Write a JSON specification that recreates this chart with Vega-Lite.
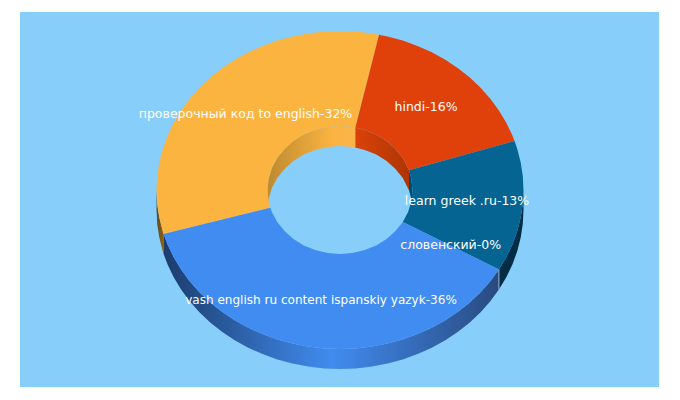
{"$schema":"https://vega.github.io/schema/vega-lite/v6.json","width":639,"height":375,"autosize":"none","padding":{"left":20,"top":12,"right":21,"bottom":13},"background":"white","view":{"fill":"#87CEFA","stroke":null},
"datasets":{
"orangeOuterWall":[{"x":-176.4,"y":-43.9},{"x":-177.2,"y":-41.2},{"x":-180.7,"y":-27.6},{"x":-182.8,"y":-13.9},{"x":-183.5,"y":0},{"x":-183.5,"y":-20},{"x":-182.8,"y":-33.9},{"x":-180.7,"y":-47.6},{"x":-177.2,"y":-61.2},{"x":-176.4,"y":-63.9}],
"tealOuterWall":[{"x":183.5,"y":0},{"x":182.8,"y":-13.9},{"x":180.7,"y":-27.6},{"x":177.2,"y":-41.2},{"x":172.4,"y":-54.4},{"x":166.3,"y":-67.2},{"x":158.9,"y":-79.5},{"x":158.9,"y":-99.5},{"x":166.3,"y":-87.2},{"x":172.4,"y":-74.4},{"x":177.2,"y":-61.2},{"x":180.7,"y":-47.6},{"x":182.8,"y":-33.9},{"x":183.5,"y":-20}],
"blueOuterWall":[{"x":158.9,"y":-79.5},{"x":150.3,"y":-91.2},{"x":140.6,"y":-102.2},{"x":129.8,"y":-112.4},{"x":118,"y":-121.8},{"x":105.3,"y":-130.2},{"x":91.8,"y":-137.7},{"x":77.5,"y":-144.1},{"x":62.8,"y":-149.4},{"x":47.5,"y":-153.6},{"x":31.9,"y":-156.6},{"x":16,"y":-158.4},{"x":0,"y":-159},{"x":-16,"y":-158.4},{"x":-31.9,"y":-156.6},{"x":-47.5,"y":-153.6},{"x":-62.8,"y":-149.4},{"x":-77.5,"y":-144.1},{"x":-91.8,"y":-137.7},{"x":-105.3,"y":-130.2},{"x":-118,"y":-121.8},{"x":-129.8,"y":-112.4},{"x":-140.6,"y":-102.2},{"x":-150.3,"y":-91.2},{"x":-158.9,"y":-79.5},{"x":-166.3,"y":-67.2},{"x":-172.4,"y":-54.4},{"x":-176.4,"y":-43.9},{"x":-176.4,"y":-63.9},{"x":-172.4,"y":-74.4},{"x":-166.3,"y":-87.2},{"x":-158.9,"y":-99.5},{"x":-150.3,"y":-111.2},{"x":-140.6,"y":-122.2},{"x":-129.8,"y":-132.4},{"x":-118,"y":-141.8},{"x":-105.3,"y":-150.2},{"x":-91.8,"y":-157.7},{"x":-77.5,"y":-164.1},{"x":-62.8,"y":-169.4},{"x":-47.5,"y":-173.6},{"x":-31.9,"y":-176.6},{"x":-16,"y":-178.4},{"x":0,"y":-179},{"x":16,"y":-178.4},{"x":31.9,"y":-176.6},{"x":47.5,"y":-173.6},{"x":62.8,"y":-169.4},{"x":77.5,"y":-164.1},{"x":91.8,"y":-157.7},{"x":105.3,"y":-150.2},{"x":118,"y":-141.8},{"x":129.8,"y":-132.4},{"x":140.6,"y":-122.2},{"x":150.3,"y":-111.2},{"x":158.9,"y":-99.5}],
"zeroSliceEdge":[{"x":158.9,"y":-79.5},{"x":158.9,"y":-99.5}],
"orangeInnerWall":[{"x":-72.5,"y":0},{"x":-71.4,"y":11.1},{"x":-68.1,"y":21.9},{"x":-62.8,"y":32},{"x":-55.5,"y":41.1},{"x":-46.6,"y":49},{"x":-36.3,"y":55.4},{"x":-24.8,"y":60.1},{"x":-12.6,"y":63},{"x":0,"y":64},{"x":12.6,"y":63},{"x":15.4,"y":62.5},{"x":15.4,"y":42.5},{"x":12.6,"y":43},{"x":0,"y":44},{"x":-12.6,"y":43},{"x":-24.8,"y":40.1},{"x":-36.3,"y":35.4},{"x":-46.6,"y":29},{"x":-55.5,"y":21.1},{"x":-62.8,"y":12},{"x":-68.1,"y":1.9},{"x":-71.4,"y":-8.9},{"x":-72.5,"y":-20}],
"redInnerWall":[{"x":15.4,"y":62.5},{"x":24.8,"y":60.1},{"x":36.3,"y":55.4},{"x":46.6,"y":49},{"x":55.5,"y":41.1},{"x":62.8,"y":32},{"x":69,"y":19.8},{"x":69,"y":-0.2},{"x":62.8,"y":12},{"x":55.5,"y":21.1},{"x":46.6,"y":29},{"x":36.3,"y":35.4},{"x":24.8,"y":40.1},{"x":15.4,"y":42.5}],
"tealInnerWall":[{"x":69,"y":19.8},{"x":71.4,"y":11.1},{"x":72.5,"y":0},{"x":72.5,"y":-20},{"x":71.4,"y":-8.9},{"x":69,"y":-0.2}],
"orangeTop":[{"x":-176.4,"y":-43.9},{"x":-177.2,"y":-41.2},{"x":-180.7,"y":-27.6},{"x":-182.8,"y":-13.9},{"x":-183.5,"y":0},{"x":-182.8,"y":13.9},{"x":-180.7,"y":27.6},{"x":-177.2,"y":41.2},{"x":-172.4,"y":54.4},{"x":-166.3,"y":67.2},{"x":-158.9,"y":79.5},{"x":-150.3,"y":91.2},{"x":-140.6,"y":102.2},{"x":-129.8,"y":112.4},{"x":-118,"y":121.8},{"x":-105.3,"y":130.2},{"x":-91.8,"y":137.7},{"x":-77.5,"y":144.1},{"x":-62.8,"y":149.4},{"x":-47.5,"y":153.6},{"x":-31.9,"y":156.6},{"x":-16,"y":158.4},{"x":0,"y":159},{"x":16,"y":158.4},{"x":31.9,"y":156.6},{"x":39.1,"y":155.3},{"x":15.4,"y":62.5},{"x":12.6,"y":63},{"x":0,"y":64},{"x":-12.6,"y":63},{"x":-24.8,"y":60.1},{"x":-36.3,"y":55.4},{"x":-46.6,"y":49},{"x":-55.5,"y":41.1},{"x":-62.8,"y":32},{"x":-68.1,"y":21.9},{"x":-71.4,"y":11.1},{"x":-72.5,"y":0},{"x":-71.4,"y":-11.1},{"x":-69.7,"y":-17.7}],
"redTop":[{"x":39.1,"y":155.3},{"x":47.5,"y":153.6},{"x":62.8,"y":149.4},{"x":77.5,"y":144.1},{"x":91.8,"y":137.7},{"x":105.3,"y":130.2},{"x":118,"y":121.8},{"x":129.8,"y":112.4},{"x":140.6,"y":102.2},{"x":150.3,"y":91.2},{"x":158.9,"y":79.5},{"x":166.3,"y":67.2},{"x":172.4,"y":54.4},{"x":174.5,"y":49.1},{"x":69,"y":19.8},{"x":62.8,"y":32},{"x":55.5,"y":41.1},{"x":46.6,"y":49},{"x":36.3,"y":55.4},{"x":24.8,"y":60.1},{"x":15.4,"y":62.5}],
"tealTop":[{"x":174.5,"y":49.1},{"x":177.2,"y":41.2},{"x":180.7,"y":27.6},{"x":182.8,"y":13.9},{"x":183.5,"y":0},{"x":182.8,"y":-13.9},{"x":180.7,"y":-27.6},{"x":177.2,"y":-41.2},{"x":172.4,"y":-54.4},{"x":166.3,"y":-67.2},{"x":158.9,"y":-79.5},{"x":62.8,"y":-32},{"x":68.1,"y":-21.9},{"x":71.4,"y":-11.1},{"x":72.5,"y":0},{"x":71.4,"y":11.1},{"x":69,"y":19.8}],
"blueTop":[{"x":158.9,"y":-79.5},{"x":150.3,"y":-91.2},{"x":140.6,"y":-102.2},{"x":129.8,"y":-112.4},{"x":118,"y":-121.8},{"x":105.3,"y":-130.2},{"x":91.8,"y":-137.7},{"x":77.5,"y":-144.1},{"x":62.8,"y":-149.4},{"x":47.5,"y":-153.6},{"x":31.9,"y":-156.6},{"x":16,"y":-158.4},{"x":0,"y":-159},{"x":-16,"y":-158.4},{"x":-31.9,"y":-156.6},{"x":-47.5,"y":-153.6},{"x":-62.8,"y":-149.4},{"x":-77.5,"y":-144.1},{"x":-91.8,"y":-137.7},{"x":-105.3,"y":-130.2},{"x":-118,"y":-121.8},{"x":-129.8,"y":-112.4},{"x":-140.6,"y":-102.2},{"x":-150.3,"y":-91.2},{"x":-158.9,"y":-79.5},{"x":-166.3,"y":-67.2},{"x":-172.4,"y":-54.4},{"x":-176.4,"y":-43.9},{"x":-69.7,"y":-17.7},{"x":-68.1,"y":-21.9},{"x":-62.8,"y":-32},{"x":-55.5,"y":-41.1},{"x":-46.6,"y":-49},{"x":-36.3,"y":-55.4},{"x":-24.8,"y":-60.1},{"x":-12.6,"y":-63},{"x":0,"y":-64},{"x":12.6,"y":-63},{"x":24.8,"y":-60.1},{"x":36.3,"y":-55.4},{"x":46.6,"y":-49},{"x":55.5,"y":-41.1},{"x":62.8,"y":-32}],
"labels":[{"x":-94.5,"y":76,"label":"проверочный код to english-32%"},{"x":86,"y":83.5,"label":"hindi-16%"},{"x":127,"y":-10.5,"label":"learn greek .ru-13%"},{"x":110.7,"y":-54.5,"label":"словенский-0%"}],
"longLabel":[{"x":-19,"y":-110,"label":"vash english ru content ispanskiy yazyk-36%"}]
},
"encoding":{"x":{"field":"x","type":"quantitative","scale":{"domain":[-320,319],"nice":false,"zero":false},"axis":null},"y":{"field":"y","type":"quantitative","scale":{"domain":[-197,178],"nice":false,"zero":false},"axis":null}},
"layer":[
{"data":{"name":"orangeOuterWall"},"mark":{"type":"line","order":null,"strokeWidth":0,"fill":{"gradient":"linear","x1":0,"y1":0,"x2":1,"y2":0,"stops":[{"offset":0,"color":"#555555"},{"offset":0.3,"color":"#6a5020"},{"offset":1,"color":"#95620f"}]}}},
{"data":{"name":"tealOuterWall"},"mark":{"type":"line","order":null,"strokeWidth":0,"fill":"#032d45"}},
{"data":{"name":"blueOuterWall"},"mark":{"type":"line","order":null,"strokeWidth":0,"fill":{"gradient":"linear","x1":0,"y1":0,"x2":1,"y2":0,"stops":[{"offset":0,"color":"#1c3c6c"},{"offset":0.5,"color":"#418CF0"},{"offset":1,"color":"#294a80"}]}}},
{"data":{"name":"zeroSliceEdge"},"mark":{"type":"line","order":null,"strokeWidth":1,"stroke":"#9fb0c4"}},
{"data":{"name":"orangeInnerWall"},"mark":{"type":"line","order":null,"strokeWidth":0,"fill":{"gradient":"linear","x1":0,"y1":0,"x2":1,"y2":0,"stops":[{"offset":0,"color":"#bd8a30"},{"offset":0.75,"color":"#fcb441"},{"offset":1,"color":"#f8b44c"}]}}},
{"data":{"name":"redInnerWall"},"mark":{"type":"line","order":null,"strokeWidth":0,"fill":{"gradient":"linear","x1":0,"y1":0,"x2":1,"y2":0,"stops":[{"offset":0,"color":"#da4208"},{"offset":1,"color":"#ae3505"}]}}},
{"data":{"name":"tealInnerWall"},"mark":{"type":"line","order":null,"strokeWidth":0,"fill":"#04496e"}},
{"data":{"name":"orangeTop"},"mark":{"type":"line","order":null,"strokeWidth":0,"fill":"#FCB441"}},
{"data":{"name":"redTop"},"mark":{"type":"line","order":null,"strokeWidth":0,"fill":"#E0400A"}},
{"data":{"name":"tealTop"},"mark":{"type":"line","order":null,"strokeWidth":0,"fill":"#056492"}},
{"data":{"name":"blueTop"},"mark":{"type":"line","order":null,"strokeWidth":0,"fill":"#418CF0"}},
{"data":{"name":"labels"},"mark":{"type":"text","font":"DejaVu Sans","fontSize":12.5,"fill":"white","align":"center","baseline":"middle"},"encoding":{"text":{"field":"label","type":"nominal"}}},
{"data":{"name":"longLabel"},"mark":{"type":"text","font":"DejaVu Sans","fontSize":12.05,"fill":"white","align":"center","baseline":"middle"},"encoding":{"text":{"field":"label","type":"nominal"}}}
]}
